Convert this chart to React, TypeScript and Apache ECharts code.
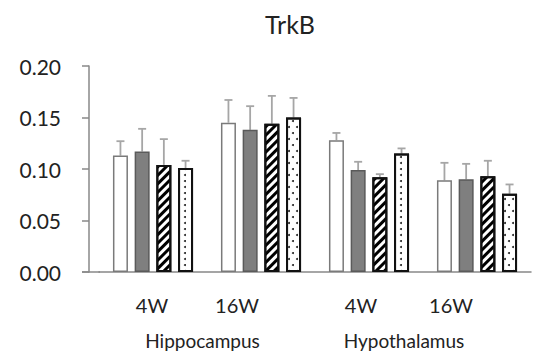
import React, { useEffect, useRef } from "react";
import * as echarts from "echarts";

const categories = ["4W", "16W", "4W", "16W"];
const regions = ["Hippocampus", "Hypothalamus"];
const yTicks = [0, 0.05, 0.1, 0.15, 0.2];

// four groups of bars, one value per category
const seriesA = [0.113, 0.145, 0.128, 0.089];
const seriesB = [0.117, 0.138, 0.099, 0.090];
const seriesC = [0.104, 0.144, 0.092, 0.093];
const seriesD = [0.101, 0.150, 0.115, 0.076];

// upper end of each error bar
const errA = [0.127, 0.167, 0.135, 0.106];
const errB = [0.139, 0.161, 0.107, 0.105];
const errC = [0.129, 0.171, 0.095, 0.108];
const errD = [0.108, 0.169, 0.120, 0.085];

const FONT = "Lato, 'Liberation Sans', sans-serif";
const BAR_W = 15;
const BAR_STEP = 21.7;

export default function App() {
  const ref = useRef<HTMLDivElement>(null);
  useEffect(() => {
    if (!ref.current) return;
    const chart = echarts.init(ref.current, null, { renderer: "svg" });
    const means = [seriesA, seriesB, seriesC, seriesD];
    const tops = [errA, errB, errC, errD];
    const errData: number[][] = [];
    means.forEach((m, s) =>
      m.forEach((v, c) => errData.push([c, s, v, tops[s][c]]))
    );
    const styles = [
      { color: "#ffffff", borderColor: "#7a7a7a", borderWidth: 1.5 },
      { color: "#7f7f7f", borderColor: "#5a5a5a", borderWidth: 1.5 },
      {
        color: "#ffffff",
        borderColor: "#111",
        borderWidth: 2,
        decal: {
          symbol: "rect",
          symbolSize: 1,
          color: "#000",
          dashArrayX: [1, 0],
          dashArrayY: [2.5, 3],
          rotation: -Math.PI / 4,
        },
      },
      {
        color: "#ffffff",
        borderColor: "#111",
        borderWidth: 2,
        decal: {
          symbol: "circle",
          symbolSize: 1,
          color: "#222",
          dashArrayX: [
            [1.6, 6],
            [0, 3.8, 1.6, 2.2],
          ],
          dashArrayY: [1.6, 4],
          rotation: 0,
        },
      },
    ];
    const shifts = [2, 48, 16, 52];
    const regionShifts = [9, 38];
    const rich: any = {};
    shifts.forEach((p, i) => {
      rich["c" + i] = { fontSize: 20, fontFamily: FONT, color: "#222", padding: [0, p, 0, 0] };
    });
    const rich2: any = {};
    regionShifts.forEach((p, i) => {
      rich2["r" + i] = { fontSize: 19, fontFamily: FONT, color: "#222", padding: [0, p, 0, 0] };
    });
    chart.setOption({
      animation: false,
      title: {
        text: "TrkB",
        left: 285,
        top: 6,
        textAlign: "center",
        textStyle: { fontFamily: FONT, fontSize: 25, fontWeight: "normal", color: "#222" },
      },
      grid: { left: 99, right: 5, top: 66, bottom: 80, containLabel: false },
      xAxis: [
        {
          type: "category",
          data: categories,
          axisLine: { lineStyle: { color: "#888", width: 1.5 } },
          axisTick: { show: false },
          axisLabel: {
            margin: 23,
            formatter: (v: string, i: number) => `{c${i}|${v}}`,
            rich,
          },
        },
        {
          type: "category",
          data: regions,
          position: "bottom",
          axisLine: { show: false },
          axisTick: { show: false },
          axisLabel: {
            margin: 59,
            formatter: (v: string, i: number) => `{r${i}|${v}}`,
            rich: rich2,
          },
        },
      ],
      yAxis: {
        type: "value",
        min: 0,
        max: 0.2,
        interval: 0.05,
        offset: 10,
        splitLine: { show: false },
        axisLine: { show: true, lineStyle: { color: "#888", width: 1.5 } },
        axisTick: { show: true, length: 7, lineStyle: { color: "#888", width: 1.5 } },
        axisLabel: {
          margin: 28,
          fontSize: 21,
          fontFamily: FONT,
          color: "#222",
          formatter: (v: number) => v.toFixed(2),
        },
      },
      graphic: [
        {
          type: "line",
          shape: { x1: 82, y1: 272, x2: 100, y2: 272 },
          style: { stroke: "#888", lineWidth: 1.5 },
        },
      ],
      series: [
        ...means.map((d, s) => ({
          type: "bar",
          data: d,
          barWidth: BAR_W,
          barGap: ((BAR_STEP - BAR_W) / BAR_W) * 100 + "%",
          itemStyle: styles[s],
          z: 3,
        })),
        {
          type: "custom",
          z: 2,
          data: errData,
          renderItem: (params: any, api: any) => {
            const c = api.value(0);
            const s = api.value(1);
            const base = api.coord([c, api.value(2)]);
            const top = api.coord([c, api.value(3)]);
            const x = base[0] + (s - 1.5) * BAR_STEP;
            const st = { stroke: "#a6a6a6", lineWidth: 1.8 };
            return {
              type: "group",
              children: [
                { type: "line", shape: { x1: x, y1: base[1], x2: x, y2: top[1] }, style: st },
                { type: "line", shape: { x1: x - 4, y1: top[1], x2: x + 4, y2: top[1] }, style: st },
              ],
            };
          },
        },
      ],
    });
    return () => chart.dispose();
  }, []);
  return (
    <div
      ref={ref}
      style={{ position: "fixed", left: 0, top: 0, width: 536, height: 352, background: "#fff" }}
    />
  );
}
